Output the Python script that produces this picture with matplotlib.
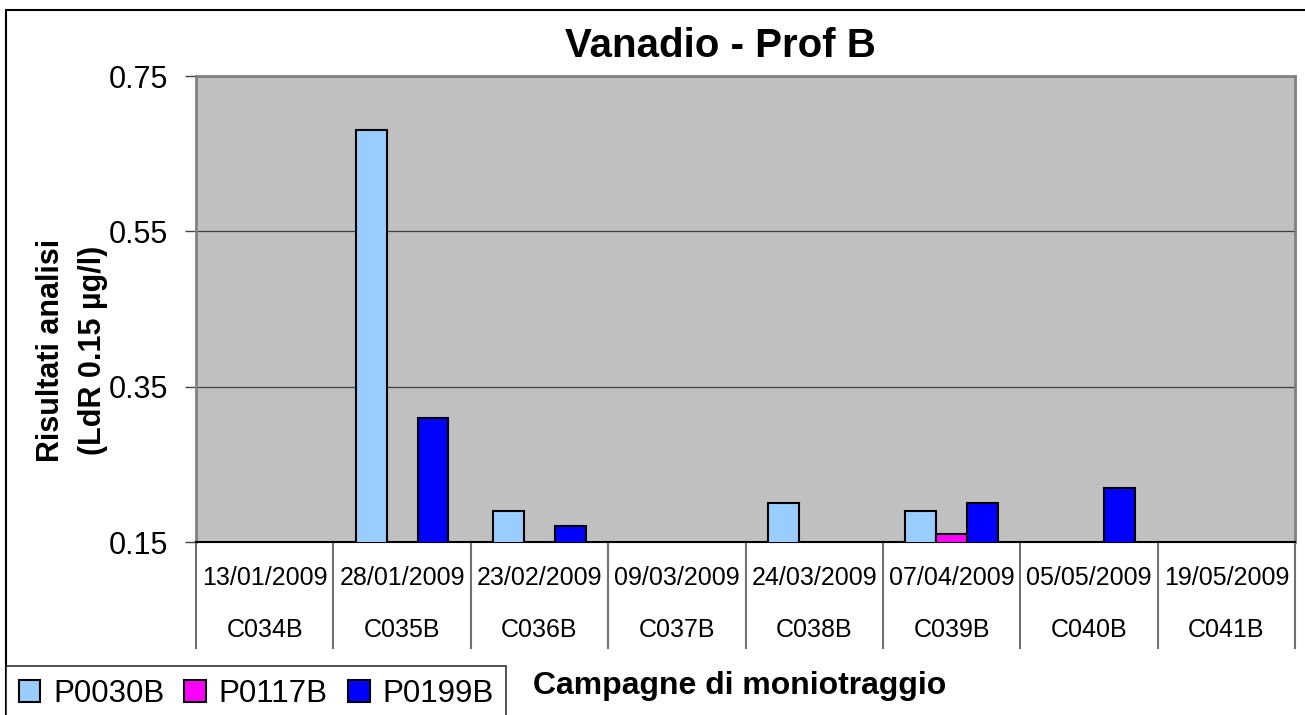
import numpy as np
import matplotlib
matplotlib.use("Agg")
import matplotlib.pyplot as plt
from matplotlib import patches, transforms

plt.rcParams['font.family'] = ['Liberation Sans', 'DejaVu Sans']

# dati
dates = ["13/01/2009", "28/01/2009", "23/02/2009", "09/03/2009",
         "24/03/2009", "07/04/2009", "05/05/2009", "19/05/2009"]
campaigns = ["C034B", "C035B", "C036B", "C037B", "C038B", "C039B", "C040B", "C041B"]
series_names = ["P0030B", "P0117B", "P0199B"]
p0030b = [np.nan, 0.68, 0.19, np.nan, 0.20, 0.19, np.nan, np.nan]
p0117b = [np.nan, np.nan, np.nan, np.nan, np.nan, 0.16, np.nan, np.nan]
p0199b = [np.nan, 0.31, 0.17, np.nan, np.nan, 0.20, 0.22, np.nan]
yticks = [0.15, 0.35, 0.55, 0.75]

colors = ["#99CCFF", "#FF00FF", "#0000FF"]

W, H = 1305, 715
fig = plt.figure(figsize=(W / 100, H / 100), dpi=100)
ax = fig.add_axes([196 / W, 1 - 542 / H, (1295 - 196) / W, (542 - 76) / H])
ax.set_facecolor("#C0C0C0")

x = np.arange(len(campaigns))
bw = 0.225
for i, (vals, name) in enumerate(zip([p0030b, p0117b, p0199b], series_names)):
    ax.bar(x + (i - 1) * bw, vals, width=bw, color=colors[i], edgecolor="black",
           linewidth=1.5, label=name, zorder=3)

ax.set_xlim(-0.5, len(campaigns) - 0.5)
ax.set_ylim(yticks[0], yticks[-1])
ax.set_yticks(yticks)
ax.set_yticklabels([f"{v:.2f}" for v in yticks], fontsize=22)
ax.tick_params(axis="y", length=8, width=1, color="#404040", pad=12)
ax.set_xticks([])
ax.yaxis.grid(True, color="#404040", linewidth=0.9, zorder=1)

for side in ["left", "top", "right"]:
    ax.spines[side].set_color("#808080")
    ax.spines[side].set_linewidth(2)
ax.spines["bottom"].set_color("black")
ax.spines["bottom"].set_linewidth(1.5)

# tabella sotto l'asse
trans = transforms.blended_transform_factory(ax.transData, ax.transAxes)
for i in range(len(campaigns)):
    ax.text(x[i], -0.077, dates[i], transform=trans, ha="center", va="center", fontsize=18)
    ax.text(x[i], -0.189, campaigns[i], transform=trans, ha="center", va="center", fontsize=18)
for b in np.arange(-0.5, len(campaigns), 1.0):
    ax.plot([b, b], [0, -0.2275], transform=trans, color="#707070", linewidth=1.5,
            clip_on=False)

fig.text(720 / W, 1 - 46 / H, "Vanadio - Prof B", fontsize=29, fontweight="bold",
         ha="center", va="center")
fig.text(72 / W, 1 - 350 / H, "Risultati analisi\n(LdR 0.15 µg/l)", fontsize=22,
         fontweight="bold", rotation=90, ha="center", va="center",
         multialignment="center", linespacing=1.5)
fig.text(740 / W, 1 - 686 / H, "Campagne di moniotraggio", fontsize=23,
         fontweight="bold", ha="center", va="center")

leg = fig.legend(loc="upper left", bbox_to_anchor=(6 / W, 1 - 666 / H), ncol=3,
                 fontsize=22.5, frameon=True, fancybox=False, borderaxespad=0,
                 handlelength=0.7, handleheight=0.7, handletextpad=0.4,
                 columnspacing=0.65, borderpad=0.4)
leg.get_frame().set_edgecolor("black")
leg.get_frame().set_linewidth(1.2)

fig.patches.append(patches.Rectangle((6 / W, -0.1), 1.2, 1 - 10 / H + 0.1,
                                     transform=fig.transFigure, fill=False,
                                     edgecolor="black", linewidth=1.5))

fig.savefig("out.png", dpi=100)
